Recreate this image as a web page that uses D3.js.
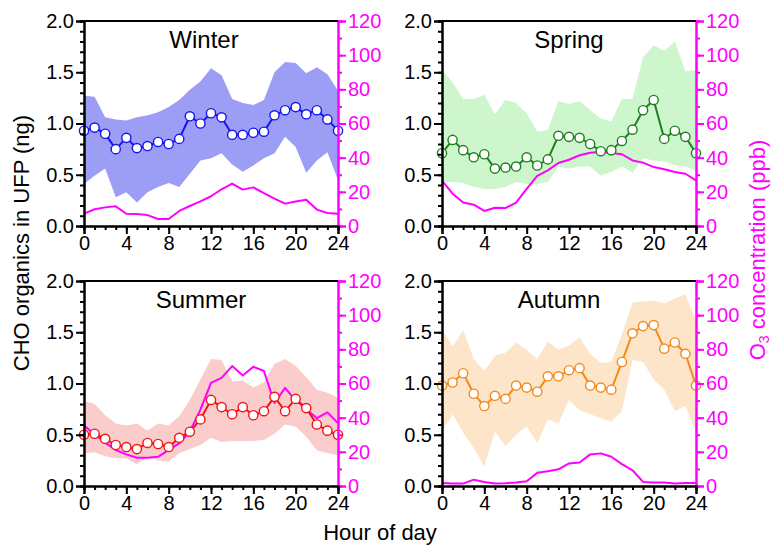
<!DOCTYPE html>
<html>
<head>
<meta charset="utf-8">
<script src="https://cdn.jsdelivr.net/npm/d3@7"></script>
<style>
  body { margin: 0; background: #fff; }
  svg { font-family: "Liberation Sans", Arial, sans-serif; }
</style>
</head>
<body>
<svg id="chart" width="775" height="546"></svg>
<script>
var hours = d3.range(0, 25);

// CHO organics (ng), mean + band, and O3 (ppb) per season
var winterMean = [0.93,0.96,0.90,0.75,0.86,0.76,0.78,0.82,0.80,0.85,1.07,1.00,1.10,1.06,0.89,0.89,0.91,0.92,1.08,1.13,1.16,1.09,1.13,1.04,0.93];
var winterHigh = [1.27,1.26,1.06,1.04,1.03,1.06,1.08,1.11,1.16,1.23,1.33,1.41,1.54,1.47,1.24,1.20,1.18,1.23,1.50,1.60,1.59,1.49,1.55,1.48,1.32];
var winterLow  = [0.41,0.49,0.56,0.28,0.33,0.23,0.33,0.38,0.42,0.38,0.51,0.64,0.66,0.71,0.60,0.53,0.59,0.66,0.71,0.87,0.77,0.52,0.64,0.72,0.45];
var winterO3   = [7.2,9.8,10.9,11.5,7.2,7.0,6.4,4.1,4.1,8.8,11.7,14.4,17.4,21.5,24.8,21.3,22.6,19.3,16.0,13.1,14.4,15.4,9.6,7.6,7.2];

var springMean = [0.71,0.84,0.74,0.67,0.70,0.56,0.57,0.58,0.67,0.59,0.65,0.88,0.87,0.86,0.80,0.73,0.74,0.83,0.94,1.13,1.23,0.85,0.93,0.87,0.71];
var springHigh = [1.53,1.40,1.24,1.24,1.28,1.09,1.23,1.20,1.10,0.92,0.94,1.22,1.19,1.22,1.13,1.05,1.02,1.24,1.24,1.65,1.76,1.71,1.80,1.51,1.52];
var springLow  = [0.43,0.43,0.42,0.38,0.36,0.36,0.38,0.43,0.41,0.41,0.43,0.58,0.56,0.58,0.58,0.49,0.53,0.58,0.52,0.66,0.64,0.63,0.59,0.58,0.54];
var springO3   = [26.5,18.9,13.7,12.5,8.8,10.7,10.5,13.7,21.7,29.3,32.6,36.9,38.8,41.4,42.9,43.3,42.7,42.0,38.4,37.1,34.5,33.2,31.6,30.6,26.7];

var summerMean = [0.50,0.51,0.46,0.40,0.38,0.36,0.42,0.41,0.38,0.47,0.53,0.65,0.84,0.77,0.70,0.77,0.69,0.73,0.87,0.73,0.85,0.76,0.60,0.54,0.50];
var summerHigh = [0.83,0.80,0.69,0.61,0.59,0.61,0.54,0.61,0.59,0.68,0.84,1.04,1.24,1.23,1.02,1.03,0.96,1.01,1.19,1.24,1.17,1.06,0.94,0.91,0.86];
var summerLow  = [0.32,0.33,0.29,0.27,0.27,0.21,0.29,0.25,0.24,0.32,0.36,0.40,0.47,0.43,0.44,0.44,0.44,0.45,0.51,0.60,0.58,0.48,0.35,0.32,0.30];
var summerO3   = [35.4,30.3,25.4,21.1,18.5,16.5,16.5,17.1,21.1,25.0,31.9,44.7,60.4,63.3,70.2,64.7,69.8,67.3,48.6,57.4,50.0,45.1,39.7,43.1,36.8];

var autumnMean = [0.98,1.01,1.10,0.90,0.78,0.88,0.85,0.98,0.96,0.92,1.07,1.07,1.13,1.15,0.98,0.96,0.94,1.21,1.49,1.56,1.57,1.34,1.40,1.29,0.98];
var autumnHigh = [1.53,1.36,1.52,1.24,1.12,1.27,1.30,1.40,1.33,1.24,1.41,1.33,1.37,1.45,1.29,1.20,1.21,1.48,1.79,1.80,1.81,1.78,1.83,1.87,1.61];
var autumnLow  = [0.53,0.70,0.52,0.37,0.19,0.53,0.39,0.50,0.58,0.42,0.65,0.61,0.84,0.74,0.70,0.66,0.63,0.73,1.23,1.21,1.04,0.94,0.73,0.78,0.53];
var autumnO3   = [1.8,1.4,1.4,3.7,2.4,1.4,1.6,2.0,2.8,7.7,8.7,9.8,13.2,13.8,18.5,19.1,17.1,12.8,9.2,2.4,2.0,2.0,1.4,1.8,1.8];

var seasons = ["Winter", "Spring", "Summer", "Autumn"];
var leftTicks = [0, 0.5, 1.0, 1.5, 2.0];
var rightTicks = [0, 20, 40, 60, 80, 100, 120];
var hourTicks = [0, 4, 8, 12, 16, 20, 24];

var svg = d3.select("#chart");
var magenta = "#ff00ff";
var pw = 254, ph = 205;

var panels = [
  {name: seasons[0], x: 84,  y: 21,  tdx: -7,  mean: winterMean, high: winterHigh, low: winterLow, o3: winterO3, band: "#9c9ef5", line: "#1414f0"},
  {name: seasons[1], x: 442, y: 21,  tdx: 0,   mean: springMean, high: springHigh, low: springLow, o3: springO3, band: "#cdf6cd", line: "#1f7f1f"},
  {name: seasons[2], x: 84,  y: 281, tdx: -10, mean: summerMean, high: summerHigh, low: summerLow, o3: summerO3, band: "#fbcccc", line: "#f01414"},
  {name: seasons[3], x: 442, y: 281, tdx: -10, mean: autumnMean, high: autumnHigh, low: autumnLow, o3: autumnO3, band: "#fde5c9", line: "#f5891c"}
];

panels.forEach(drawPanel);

function drawPanel(p) {
  var g = svg.append("g").attr("transform", "translate(" + p.x + "," + p.y + ")");
  var x = d3.scaleLinear().domain([0, 24]).range([0, pw]);
  var y = d3.scaleLinear().domain([0, 2]).range([ph, 0]);
  var y2 = d3.scaleLinear().domain([0, 120]).range([ph, 0]);

  // shaded band
  var area = d3.area()
    .x(function(d, i) { return x(hours[i]); })
    .y0(function(d, i) { return y(p.low[i]); })
    .y1(function(d, i) { return y(p.high[i]); });
  g.append("path").datum(p.mean).attr("d", area).attr("fill", p.band);

  // O3 line
  var o3line = d3.line()
    .x(function(d, i) { return x(hours[i]); })
    .y(function(d) { return y2(d); });
  g.append("path").datum(p.o3).attr("d", o3line)
    .attr("fill", "none").attr("stroke", magenta).attr("stroke-width", 2)
    .attr("stroke-linejoin", "round");

  // mean line + markers
  var mline = d3.line()
    .x(function(d, i) { return x(hours[i]); })
    .y(function(d) { return y(d); });
  g.append("path").datum(p.mean).attr("d", mline)
    .attr("fill", "none").attr("stroke", p.line).attr("stroke-width", 2);
  g.selectAll("circle.pt").data(p.mean).enter().append("circle")
    .attr("class", "pt")
    .attr("cx", function(d, i) { return x(hours[i]); })
    .attr("cy", function(d) { return y(d); })
    .attr("r", 4.6)
    .attr("fill", "#fff").attr("stroke", p.line).attr("stroke-width", 1.4);

  // minor ticks
  var minorL = d3.axisLeft(y).tickValues(d3.range(0, 2.01, 0.1)).tickSize(4).tickFormat("");
  g.append("g").call(minorL).call(styleAxis, "#000");
  var minorR = d3.axisRight(y2).tickValues(d3.range(0, 121, 10)).tickSize(4).tickFormat("");
  g.append("g").attr("transform", "translate(" + pw + ",0)").call(minorR).call(styleAxis, magenta);
  var minorX = d3.axisBottom(x).tickValues(hours).tickSize(4).tickFormat("");
  g.append("g").attr("transform", "translate(0," + ph + ")").call(minorX).call(styleAxis, "#000");

  // major axes
  var axL = d3.axisLeft(y).tickValues(leftTicks).tickSize(8).tickPadding(2).tickFormat(d3.format(".1f"));
  g.append("g").call(axL).call(styleAxis, "#000");
  var axR = d3.axisRight(y2).tickValues(rightTicks).tickSize(8).tickPadding(2);
  g.append("g").attr("transform", "translate(" + pw + ",0)").call(axR).call(styleAxis, magenta);
  var axX = d3.axisBottom(x).tickValues(hourTicks).tickSize(8).tickPadding(2);
  g.append("g").attr("transform", "translate(0," + ph + ")").call(axX).call(styleAxis, "#000");

  // top frame
  g.append("line").attr("x1", 0).attr("x2", pw).attr("y1", 0).attr("y2", 0)
    .attr("stroke", "#000").attr("stroke-width", 2);

  g.append("text").attr("x", pw / 2 + p.tdx).attr("y", 27)
    .attr("text-anchor", "middle").attr("font-size", 24).attr("fill", "#000")
    .text(p.name);
}

function styleAxis(sel, col) {
  sel.select(".domain").attr("stroke", col).attr("stroke-width", 2);
  sel.selectAll(".tick line").attr("stroke", col).attr("stroke-width", 2);
  sel.selectAll(".tick text").attr("fill", col).attr("font-size", 20)
    .attr("font-family", "Liberation Sans, Arial, sans-serif");
}

// axis titles
svg.append("text")
  .attr("transform", "translate(29,243) rotate(-90)")
  .attr("text-anchor", "middle").attr("font-size", 22).attr("fill", "#000")
  .text("CHO organics in UFP (ng)");

var o3t = svg.append("text")
  .attr("transform", "translate(765,250) rotate(-90)")
  .attr("text-anchor", "middle").attr("font-size", 22).attr("fill", magenta);
o3t.append("tspan").text("O");
o3t.append("tspan").attr("font-size", 14).attr("dy", 4).text("3");
o3t.append("tspan").attr("dy", -4).text(" concentration (ppb)");

svg.append("text").attr("x", 380).attr("y", 540)
  .attr("text-anchor", "middle").attr("font-size", 22).attr("fill", "#000")
  .text("Hour of day");
</script>
</body>
</html>
